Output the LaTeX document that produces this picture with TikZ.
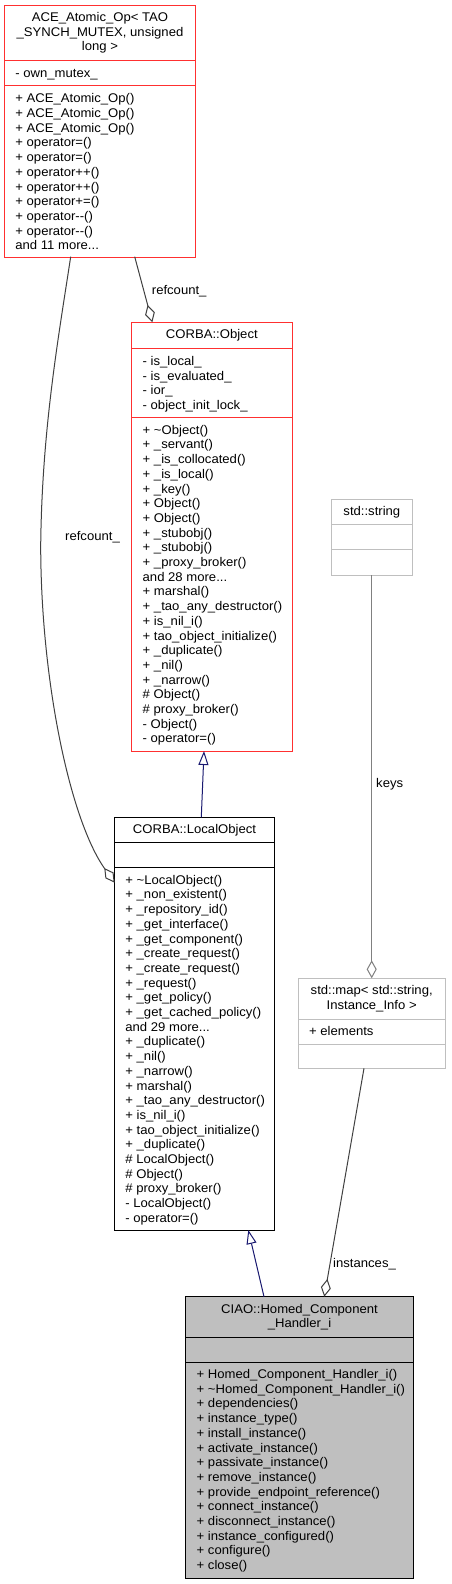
\documentclass[tikz,border=0pt]{standalone}
\usepackage{fontspec}
\setmainfont{Liberation Sans}[FakeStretch=1.04]
\usetikzlibrary{arrows.meta}
\definecolor{boxred}{HTML}{FF3030}
\definecolor{boxgray}{HTML}{BFBFBF}
\definecolor{inhblue}{HTML}{191970}
\definecolor{edgegray}{HTML}{404040}
\definecolor{tplgray}{HTML}{808080}
\newcommand\threedots{...}
\tikzset{
  txt/.style={font=\fontsize{12.6}{14.7}\selectfont, inner sep=0pt, text=black},
  umlbox/.style={line width=1pt, anchor=north west, inner sep=0pt, outer sep=0pt},
  agg/.style={draw=edgegray, line width=1pt, {Diamond[open,length=18pt,width=10pt]}-},
  tplagg/.style={draw=tplgray, line width=1pt, {Diamond[open,length=18pt,width=10pt]}-},
  inh/.style={draw=inhblue, line width=1pt, -{Triangle[open,length=14pt,width=10pt]}},
  lbl/.style={txt, anchor=base west}
}
\newcommand\mlist[4]{%
  \foreach \t [count=\i from 0] in {#4}{%
    \node[txt, anchor=base west] (#3-\i) at (#1,{#2+\i*14.7}) {\t};}}
\begin{document}
\begin{tikzpicture}[x=1pt,y=-1pt]
\useasboundingbox (0,0) rectangle (451,1584);
\fill[white] (0,0) rectangle (451,1584);

% ---------- ACE_Atomic_Op ----------
\node[umlbox, draw=boxred, minimum width=190.6pt, minimum height=252pt] (ace) at (4.7,5.7) {};
\draw[boxred, line width=1pt] (4.7,60.7) -- (195.3,60.7);
\draw[boxred, line width=1pt] (4.7,86) -- (195.3,86);
\node[txt, anchor=base] (ace-t1) at (100,21.5) {ACE\_Atomic\_Op< TAO};
\node[txt, anchor=base] (ace-t2) at (100,36.2) {\_SYNCH\_MUTEX, unsigned};
\node[txt, anchor=base] (ace-t3) at (100,50.9) {long >};
\mlist{15.2}{77.2}{acea}{- own\_mutex\_}
\mlist{15.2}{102.8}{acem}{+ ACE\_Atomic\_Op(), + ACE\_Atomic\_Op(), + ACE\_Atomic\_Op(),
  + operator=(), + operator=(), + operator++(), + operator++(), + operator+=(),
  + operator-{}-(), + operator-{}-(), and 11 more\threedots}

% ---------- CORBA::Object ----------
\node[umlbox, draw=boxred, minimum width=160.3pt, minimum height=428.7pt] (obj) at (131.7,322.3) {};
\draw[boxred, line width=1pt] (131.7,348.3) -- (292,348.3);
\draw[boxred, line width=1pt] (131.7,417.7) -- (292,417.7);
\node[txt, anchor=base] (obj-t) at (211.85,338.8) {CORBA::Object};
\mlist{142.5}{365.5}{obja}{- is\_local\_, - is\_evaluated\_, - ior\_, - object\_init\_lock\_}
\mlist{142.5}{434.2}{objm}{+ \textasciitilde Object(), + \_servant(), + \_is\_collocated(), + \_is\_local(),
  + \_key(), + Object(), + Object(), + \_stubobj(), + \_stubobj(), + \_proxy\_broker(),
  and 28 more\threedots, + marshal(), + \_tao\_any\_destructor(), + is\_nil\_i(),
  + tao\_object\_initialize(), + \_duplicate(), + \_nil(), + \_narrow(),
  \# Object(), \# proxy\_broker(), - Object(), - operator=()}

% ---------- CORBA::LocalObject ----------
\node[umlbox, draw=black, minimum width=159.6pt, minimum height=412.7pt] (lo) at (114.7,817.3) {};
\draw[black, line width=1pt] (114.7,842.7) -- (274.3,842.7);
\draw[black, line width=1pt] (114.7,867.7) -- (274.3,867.7);
\node[txt, anchor=base] (lo-t) at (194.5,833.8) {CORBA::LocalObject};
\mlist{125.2}{884.2}{lom}{+ \textasciitilde LocalObject(), + \_non\_existent(), + \_repository\_id(),
  + \_get\_interface(), + \_get\_component(), + \_create\_request(), + \_create\_request(),
  + \_request(), + \_get\_policy(), + \_get\_cached\_policy(), and 29 more\threedots,
  + \_duplicate(), + \_nil(), + \_narrow(), + marshal(), + \_tao\_any\_destructor(),
  + is\_nil\_i(), + tao\_object\_initialize(), + \_duplicate(), \# LocalObject(),
  \# Object(), \# proxy\_broker(), - LocalObject(), - operator=()}

% ---------- std::string ----------
\node[umlbox, draw=boxgray, minimum width=80.3pt, minimum height=76pt] (str) at (331.7,499.3) {};
\draw[boxgray, line width=1pt] (331.7,524.3) -- (412,524.3);
\draw[boxgray, line width=1pt] (331.7,549.7) -- (412,549.7);
\node[txt, anchor=base] (str-t) at (371.85,515.8) {std::string};

% ---------- std::map ----------
\node[umlbox, draw=boxgray, minimum width=146.6pt, minimum height=90pt] (map) at (298.4,978.3) {};
\draw[boxgray, line width=1pt] (298.4,1019) -- (445,1019);
\draw[boxgray, line width=1pt] (298.4,1044.3) -- (445,1044.3);
\node[txt, anchor=base] (map-t1) at (371.7,994.8) {std::map< std::string,};
\node[txt, anchor=base] (map-t2) at (371.7,1009.5) {Instance\_Info >};
\mlist{308.9}{1035.8}{mapa}{+ elements}

% ---------- CIAO::Homed_Component_Handler_i ----------
\node[umlbox, draw=black, fill=boxgray, minimum width=227.6pt, minimum height=281.6pt] (hom) at (185.7,1296.7) {};
\draw[black, line width=1pt] (185.7,1337.3) -- (413.3,1337.3);
\draw[black, line width=1pt] (185.7,1362) -- (413.3,1362);
\node[txt, anchor=base] (hom-t1) at (299.5,1313.2) {CIAO::Homed\_Component};
\node[txt, anchor=base] (hom-t2) at (299.5,1327.9) {\_Handler\_i};
\mlist{196.5}{1378.5}{homm}{+ Homed\_Component\_Handler\_i(), + \textasciitilde Homed\_Component\_Handler\_i(),
  + dependencies(), + instance\_type(), + install\_instance(), + activate\_instance(),
  + passivate\_instance(), + remove\_instance(), + provide\_endpoint\_reference(),
  + connect\_instance(), + disconnect\_instance(), + instance\_configured(),
  + configure(), + close()}

% ---------- connector end points ----------
\coordinate (aceR) at (134.7,256.7);
\coordinate (aceL) at (70.7,256.7);
\coordinate (objTop) at (152.3,322.3);
\coordinate (objBot) at (204,751);
\coordinate (loTop) at (201.3,817.3);
\coordinate (loLeft) at (114.7,882.7);
\coordinate (loBot) at (248.3,1230);
\coordinate (homTopL) at (264,1296.7);
\coordinate (homTopR) at (324.3,1296.7);
\coordinate (strBot) at (371.7,575.3);
\coordinate (mapTop) at (371.7,978.3);
\coordinate (mapBot) at (364,1068.3);

% ---------- connectors ----------
\draw[agg] (objTop) -- (aceR);
\draw[agg] (loLeft) .. controls (70,820) and (40.7,680) .. (40.7,545)
                    .. controls (42,430) and (58,340) .. (aceL);
\draw[inh] (loTop) -- (objBot);
\draw[inh] (homTopL) -- (loBot);
\draw[tplagg] (mapTop) -- (strBot);
\draw[agg] (homTopR) -- (mapBot);

% ---------- labels ----------
\node[lbl] (l-ref1) at (151.7,294.5) {refcount\_};
\node[lbl] (l-ref2) at (65,540.5) {refcount\_};
\node[lbl] (l-keys) at (376,787.2) {keys};
\node[lbl] (l-inst) at (333,1267.8) {instances\_};
\end{tikzpicture}
\end{document}
